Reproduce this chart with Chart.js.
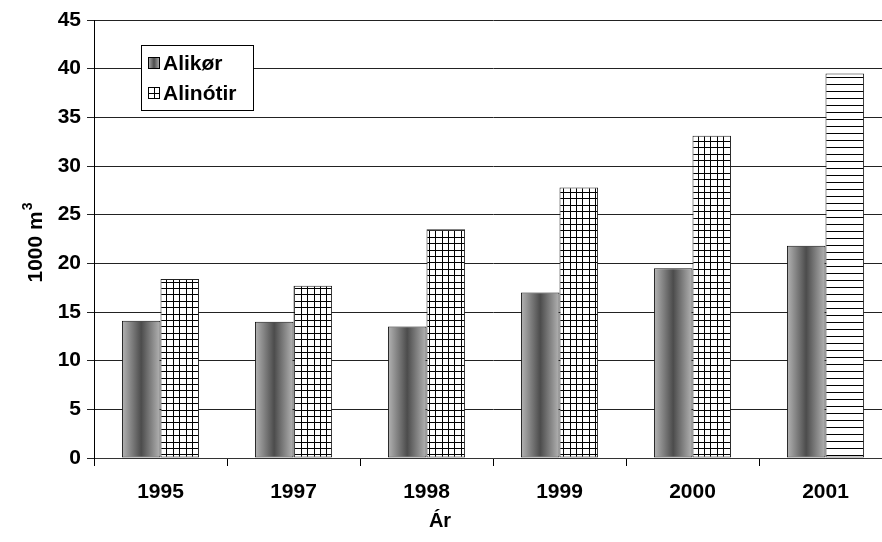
<!DOCTYPE html>
<html>
<head>
<meta charset="utf-8">
<script src="https://cdn.jsdelivr.net/npm/chart.js@4.4.1/dist/chart.umd.min.js"></script>
<style>
  html, body { margin: 0; padding: 0; background: #fff; overflow: hidden; }
  #wrap { width: 882px; height: 542px; overflow: hidden; position: relative; }
  canvas { display: block; }
</style>
</head>
<body>
<div id="wrap"><canvas id="chart" width="900" height="542"></canvas></div>
<script>
var years = ['1995', '1997', '1998', '1999', '2000', '2001'];
var alikor = [14.1, 14.0, 13.5, 17.0, 19.5, 21.8];
var alinotir = [18.4, 17.7, 23.5, 27.8, 33.1, 39.5];
var seriesNames = ['Alikør', 'Alinótir'];
var yTicks = [0, 5, 10, 15, 20, 25, 30, 35, 40, 45];

var CAT_PCT = 0.58;
var FONT = '"Liberation Sans", Arial, sans-serif';

var gridPattern = null;
var linePattern = null;

function makeGridPattern(ctx) {
  if (gridPattern) return gridPattern;
  var t = document.createElement('canvas');
  t.width = 32; t.height = 32;
  var c = t.getContext('2d');
  c.fillStyle = '#fff';
  c.fillRect(0, 0, 32, 32);
  c.fillStyle = '#000';
  [0, 6, 13, 19, 26].forEach(function(p) {
    c.fillRect(p, 0, 1, 32);
    c.fillRect(0, p, 32, 1);
  });
  gridPattern = ctx.createPattern(t, 'repeat');
  return gridPattern;
}

function makeLinePattern(ctx) {
  if (linePattern) return linePattern;
  var t = document.createElement('canvas');
  t.width = 8; t.height = 7;
  var c = t.getContext('2d');
  c.fillStyle = '#fff';
  c.fillRect(0, 0, 8, 7);
  c.fillStyle = '#000';
  c.fillRect(0, 0, 8, 1);
  linePattern = ctx.createPattern(t, 'repeat');
  return linePattern;
}

function cylinder(ctx, x0, x1) {
  var g = ctx.createLinearGradient(x0, 0, x1, 0);
  g.addColorStop(0, '#b4b4b4');
  g.addColorStop(0.5, '#4c4c4c');
  g.addColorStop(1, '#b4b4b4');
  return g;
}

function alikorFill(context) {
  var chart = context.chart;
  var xs = chart.scales.x;
  if (!chart.chartArea || !xs) return '#777';
  var c = xs.getPixelForValue(context.dataIndex);
  var bw = (xs.width / years.length) * CAT_PCT / 2;
  return cylinder(chart.ctx, c - bw, c);
}

function alinotirFill(context) {
  var ctx = context.chart.ctx;
  if (context.dataIndex === years.length - 1) return makeLinePattern(ctx);
  return makeGridPattern(ctx);
}

var legendBox = {
  id: 'legendBox',
  afterDraw: function(chart) {
    var ctx = chart.ctx;
    ctx.save();
    ctx.fillStyle = '#fff';
    ctx.fillRect(141, 45, 112, 65);
    ctx.strokeStyle = '#000';
    ctx.lineWidth = 1;
    ctx.strokeRect(141.5, 45.5, 112, 65);

    // Alikør icon
    ctx.fillStyle = cylinder(ctx, 148, 160);
    ctx.fillRect(148, 57, 12, 12);
    ctx.strokeRect(148.5, 57.5, 11, 11);
    // Alinótir icon
    ctx.fillStyle = '#fff';
    ctx.fillRect(148, 87, 12, 12);
    ctx.strokeRect(148.5, 87.5, 11, 11);
    ctx.fillStyle = '#000';
    ctx.fillRect(154, 87, 1, 12);
    ctx.fillRect(148, 93, 12, 1);

    ctx.fillStyle = '#000';
    ctx.font = 'bold 21px ' + FONT;
    ctx.textBaseline = 'middle';
    ctx.textAlign = 'left';
    ctx.fillText(seriesNames[0], 163, 64);
    ctx.fillText(seriesNames[1], 163, 94);

    // x axis title, centred on the visible page
    ctx.font = 'bold 20px ' + FONT;
    ctx.textAlign = 'center';
    ctx.fillText('Ár', 440, 521);

    // y axis title with a raised 3
    ctx.translate(42, 243);
    ctx.rotate(-Math.PI / 2);
    ctx.textAlign = 'left';
    ctx.textBaseline = 'alphabetic';
    ctx.font = 'bold 21px ' + FONT;
    var main = '1000 m';
    var w = ctx.measureText(main).width;
    ctx.font = 'bold 14px ' + FONT;
    var w3 = ctx.measureText('3').width;
    var start = -(w + w3) / 2;
    ctx.font = 'bold 21px ' + FONT;
    ctx.fillText(main, start, 0);
    ctx.font = 'bold 14px ' + FONT;
    ctx.fillText('3', start + w + 1, -10);
    ctx.restore();
  }
};

document.addEventListener('DOMContentLoaded', function() {
  new Chart(document.getElementById('chart'), {
    type: 'bar',
    data: {
      labels: years,
      datasets: [{
        label: seriesNames[0],
        data: alikor,
        backgroundColor: alikorFill,
        borderColor: '#111',
        borderWidth: 1,
        borderSkipped: false
      }, {
        label: seriesNames[1],
        data: alinotir,
        backgroundColor: alinotirFill,
        borderColor: '#222',
        borderWidth: 1,
        borderSkipped: false
      }]
    },
    plugins: [legendBox],
    options: {
      responsive: false,
      animation: false,
      layout: { padding: { top: 20, right: 8, left: 0, bottom: 0 } },
      plugins: {
        legend: { display: false },
        tooltip: { enabled: false }
      },
      datasets: {
        bar: { barPercentage: 1.0, categoryPercentage: CAT_PCT }
      },
      scales: {
        x: {
          afterFit: function(scale) { scale.height = 84; },
          grid: {
            offset: true,
            drawOnChartArea: false,
            color: '#000',
            tickLength: 8
          },
          border: { color: '#333', width: 1 },
          ticks: {
            color: '#000',
            padding: 14,
            font: { family: FONT, size: 21, weight: 'bold' }
          }
        },
        y: {
          min: 0,
          max: 45,
          afterFit: function(scale) { scale.width = 94; },
          afterBuildTicks: function(scale) {
            scale.ticks = yTicks.map(function(v) { return { value: v }; });
          },
          grid: {
            color: '#222',
            lineWidth: 1,
            tickLength: 7
          },
          border: { color: '#000', width: 1 },
          ticks: {
            color: '#000',
            padding: 6,
            font: { family: FONT, size: 21, weight: 'bold' }
          }
        }
      }
    }
  });
});
</script>
</body>
</html>
